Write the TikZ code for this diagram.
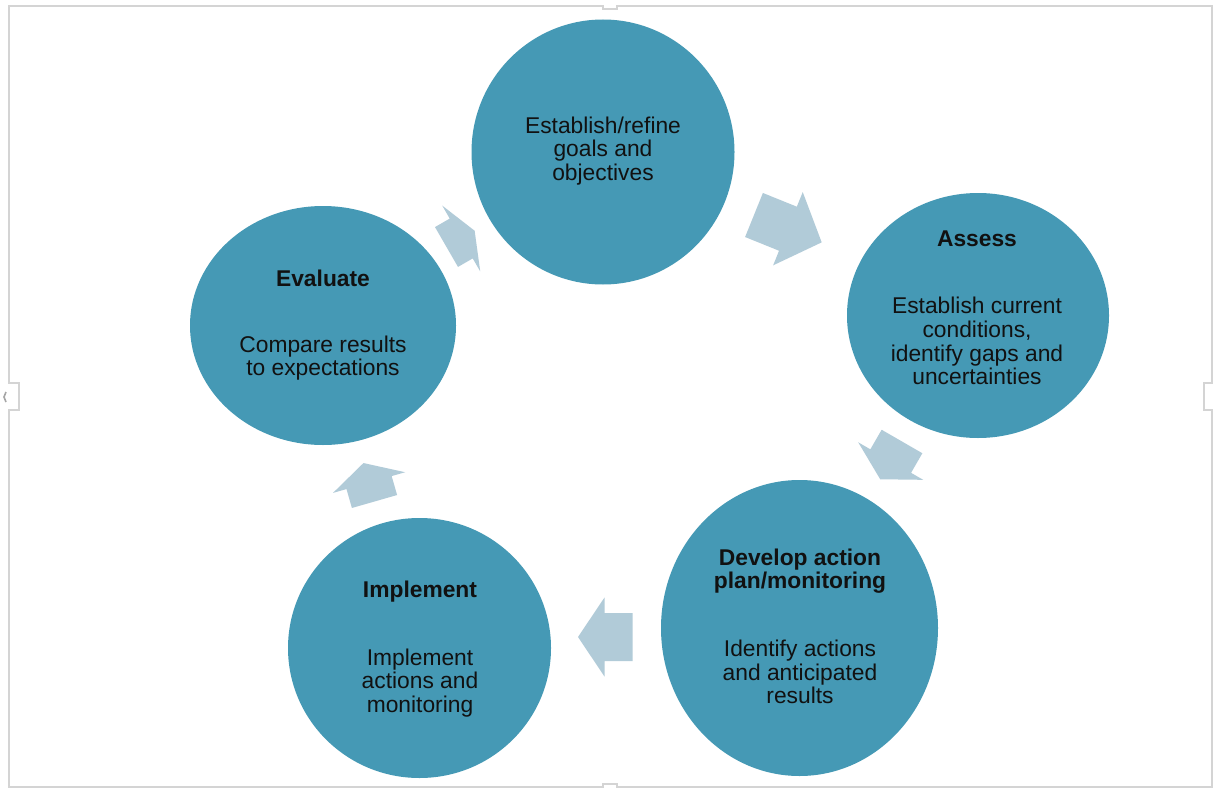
\documentclass[tikz,border=0pt]{standalone}
\usepackage{fontspec}
\setmainfont{Liberation Sans}
\usetikzlibrary{shapes.geometric}
\definecolor{circ}{HTML}{4599B5}
\definecolor{arr}{HTML}{B1CBD8}
\definecolor{framegray}{HTML}{D4D4D4}
\definecolor{txtcol}{HTML}{111111}
\tikzset{
  stage/.style={ellipse, fill=circ, draw=none, inner sep=0pt},
  ttl/.style={font=\fontsize{22.8}{23.7}\selectfont\bfseries, align=center, inner sep=0pt, text=txtcol},
  txt/.style={font=\fontsize{22.8}{23.7}\selectfont, align=center, inner sep=0pt, text=txtcol},
  arrowfill/.style={fill=arr, draw=none},
  framestyle/.style={draw=framegray, line width=1.6pt}
}
% back-centre x, y, angle, body length, head length, body width, head width
\newcommand{\cyclearrow}[7]{%
  \fill[arrowfill, shift={(#1,#2)}, rotate=#3]
    (0,{-#6/2}) -- (#4,{-#6/2}) -- (#4,{-#7/2}) -- ({#4+#5},0) --
    (#4,{#7/2}) -- (#4,{#6/2}) -- (0,{#6/2}) -- cycle;}
\begin{document}
\begin{tikzpicture}[x=1pt,y=-1pt]
\useasboundingbox (0,0) rectangle (1218,792);
\fill[white] (0,0) rectangle (1218,792);
% frame with handles
\draw[framestyle] (9,6) -- (603,6) -- (603,9) -- (617,9) -- (617,6) -- (1212,6)
  -- (1212,383) -- (1204,383) -- (1204,410) -- (1212,410) -- (1212,787)
  -- (617,787) -- (617,784) -- (603,784) -- (603,787) -- (9,787)
  -- (9,410) -- (19,410) -- (19,383) -- (9,383) -- cycle;
\draw[gray!70, line width=1.6pt] (6,392) -- (4,397) -- (6,402);

% stages
\node[stage, minimum width=263pt, minimum height=265pt] (goals) at (603,152) {};
\node[stage, minimum width=262pt, minimum height=245pt] (assess) at (978,315.5) {};
\node[stage, minimum width=277pt, minimum height=296pt] (develop) at (799.5,628) {};
\node[stage, minimum width=263pt, minimum height=260pt] (implement) at (419.5,648) {};
\node[stage, minimum width=266pt, minimum height=239pt] (evaluate) at (323,325.5) {};

% texts
\node[txt] (goalsT) at (603,151) {Establish/refine\\goals and\\objectives};
\node[ttl] (assessH) at (977,239) {Assess};
\node[txt] (assessT) at (977,341) {Establish current\\conditions,\\identify gaps and\\uncertainties};
\node[ttl] (developH) at (800,571) {Develop action\\plan/monitoring};
\node[txt] (developT) at (800,672) {Identify actions\\and anticipated\\results};
\node[ttl] (implementH) at (420,591.5) {Implement};
\node[txt] (implementT) at (420,683) {Implement\\actions and\\monitoring};
\node[ttl] (evaluateH) at (323,278) {Evaluate};
\node[txt] (evaluateT) at (323,358) {Compare results\\to expectations};

% cycle arrows
\cyclearrow{446.5}{247}{30}{17}{15.5}{46}{76}
\cyclearrow{754}{215}{-22}{36.6}{36.4}{47.5}{79}
\cyclearrow{902}{441.5}{-120}{22.6}{21}{47}{75}
\cyclearrow{632.5}{637}{180}{28}{26.5}{48}{79}
\cyclearrow{374.5}{501.5}{106}{19.7}{20.3}{47}{75}
\end{tikzpicture}
\end{document}
